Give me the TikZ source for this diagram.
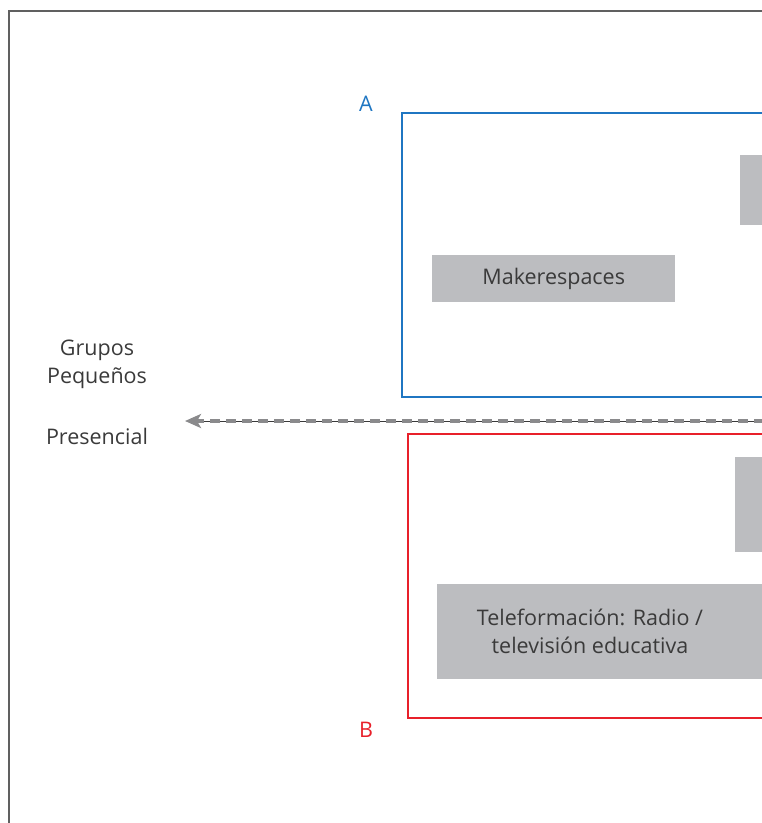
\documentclass[tikz,border=0pt]{standalone}
\usepackage{fontspec}
\setmainfont{Open Sans}
\usepackage{xcolor}
\usetikzlibrary{arrows.meta}
\definecolor{marco}{HTML}{606060}
\definecolor{azul}{HTML}{1F76C2}
\definecolor{rojo}{HTML}{E8202A}
\definecolor{caja}{HTML}{BCBDC0}
\definecolor{guion}{HTML}{8A8A8C}
\definecolor{texto}{HTML}{3A3A3A}

\begin{document}
\begin{tikzpicture}[x=1pt,y=-1pt,
  font=\fontsize{21.5}{28}\selectfont, text=texto,
  caja/.style={fill=caja, inner sep=0pt, anchor=north west, align=center},
  zona/.style={line width=2.5pt},
  rotulo/.style={align=center, inner sep=0pt}]
\useasboundingbox (0,0) rectangle (762,823);
\clip (0,0) rectangle (762,823);

% marco
\draw[marco, line width=2.2pt] (9,830) -- (9,11) -- (770,11);

% zona A
\node[text=azul] (letraA) at (366,104) {A};
\draw[zona, azul] (780,113) -- (402,113) -- (402,397) -- (780,397);
\node[caja, minimum width=60pt, minimum height=70pt] (cajaA) at (740,155) {};
\node[caja, minimum width=243pt, minimum height=47pt] (maker) at (432,255) {Makerespaces};

% eje horizontal
\coordinate (ejeder) at (780,421);
\coordinate (ejeizq) at (185,421);
\draw[texto, line width=0.9pt] (ejeder) -- ([xshift=10pt]ejeizq);
\draw[guion, line width=3.2pt, dash pattern=on 10pt off 6pt, -{Stealth[length=16pt,width=14pt,inset=4pt]}] (ejeder) -- (ejeizq);

% zona B
\draw[zona, rojo] (780,434) -- (408,434) -- (408,718) -- (780,718);
\node[caja, minimum width=60pt, minimum height=95pt] (cajaB) at (735,457) {};
\node[caja, minimum width=340pt, minimum height=95pt] (tele) at (437,584) {};
\node[rotulo] (teletxt) at (590,631) {Teleformación: Radio /\\televisión educativa};
\node[text=rojo] (letraB) at (366,730) {B};

% rotulos del eje
\node[rotulo] (grupos) at (97,364) {Grupos\\Pequeños};
\node[rotulo] (presencial) at (97,436) {Presencial};
\end{tikzpicture}
\end{document}
